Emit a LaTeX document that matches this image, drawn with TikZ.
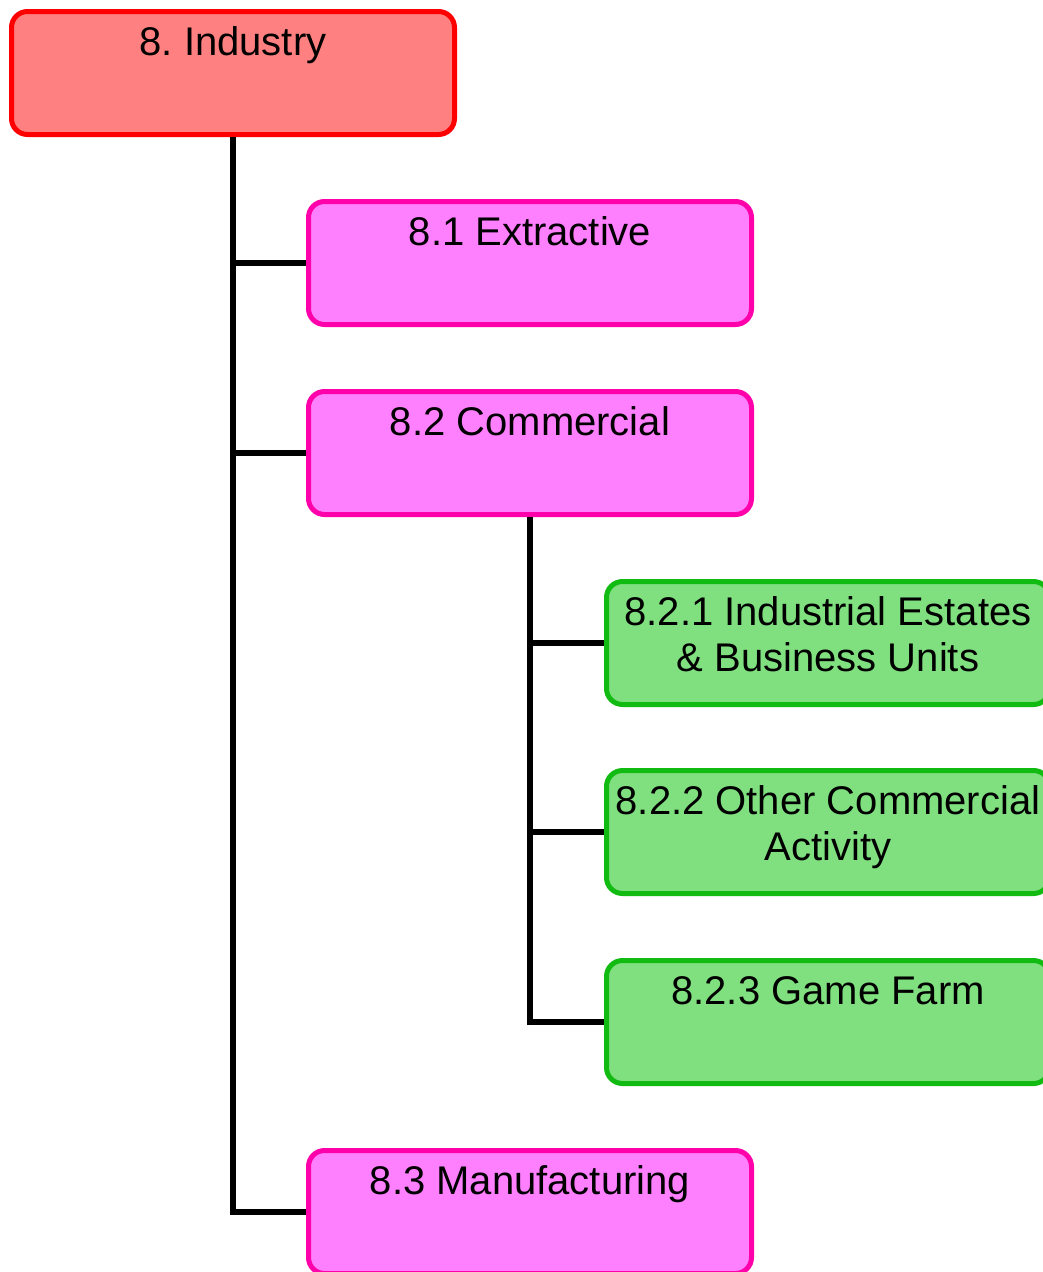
\documentclass[tikz,border=0pt]{standalone}
\usepackage{fontspec}
\setmainfont{Liberation Sans}
\frenchspacing
\newcommand\mybxt[1]{\parbox[t][118pt][t]{443pt}{\centering\rule{0pt}{41pt}#1}}
\definecolor{redfill}{HTML}{FF8080}
\definecolor{redline}{HTML}{FF0000}
\definecolor{pinkfill}{HTML}{FF80FF}
\definecolor{pinkline}{HTML}{FF00AA}
\definecolor{greenfill}{HTML}{80E080}
\definecolor{greenline}{HTML}{11BB11}
\tikzset{
  catbox/.style={rectangle, rounded corners=16pt, line width=5pt, minimum width=443pt, minimum height=123pt, inner sep=0pt, font=\fontsize{40}{46}\selectfont},
  topbox/.style={catbox, draw=redline, fill=redfill},
  midbox/.style={catbox, draw=pinkline, fill=pinkfill},
  lowbox/.style={catbox, draw=greenline, fill=greenfill},
  conn/.style={line width=6pt, line join=miter, draw=black}
}
\begin{document}
\begin{tikzpicture}[x=1pt,y=-1pt]
\useasboundingbox (0,0) rectangle (1042,1272);
\node[topbox] (ind) at (233,73) {\mybxt{8. Industry}};
\node[midbox] (ext) at (530,263) {\mybxt{8.1 Extractive}};
\node[midbox] (com) at (530,453) {\mybxt{8.2 Commercial}};
\node[lowbox] (ies) at (828,643) {\mybxt{8.2.1 Industrial Estates\\ \& Business Units}};
\node[lowbox] (occ) at (828,832) {\mybxt{8.2.2 Other Commercial\\ Activity}};
\node[lowbox] (gfm) at (828,1022) {\mybxt{8.2.3 Game Farm}};
\node[midbox] (man) at (530,1212) {\mybxt{8.3 Manufacturing}};
\draw[conn] (ind.south) |- (man.west);
\draw[conn] (ind.south |- ext.west) -- (ext.west);
\draw[conn] (ind.south |- com.west) -- (com.west);
\draw[conn] (com.south) |- (gfm.west);
\draw[conn] (com.south |- ies.west) -- (ies.west);
\draw[conn] (com.south |- occ.west) -- (occ.west);
\end{tikzpicture}
\end{document}
